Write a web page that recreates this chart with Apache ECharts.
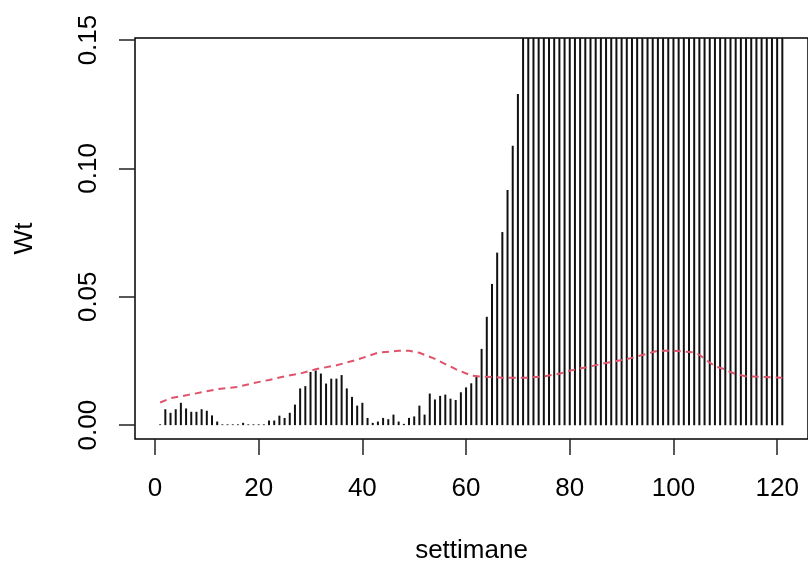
<!DOCTYPE html>
<html>
<head>
<meta charset="utf-8">
<script src="https://cdn.jsdelivr.net/npm/echarts@6/dist/echarts.min.js"></script>
<style>
  html, body { margin: 0; padding: 0; background: #fff; }
  #chartContainer { width: 808px; height: 569px; }
</style>
</head>
<body>
<div id="chartContainer"></div>
<script>
// weekly Wt values, weeks 1..121 (bars above 0.15 are clipped by the plot box)
var WT_VALUES = [
  0.0003, 0.0062, 0.0048, 0.0062, 0.0087, 0.0065, 0.0052, 0.0052, 0.0062, 0.0056,
  0.0038, 0.0014, 0.0003, 0.0003, 0.0003, 0.0003, 0.0009, 0.0003, 0.0003, 0.0003,
  0.0003, 0.0018, 0.0018, 0.0037, 0.0028, 0.0048, 0.0080, 0.0143, 0.0152, 0.0207,
  0.0213, 0.0201, 0.0162, 0.0181, 0.0181, 0.0195, 0.0143, 0.0110, 0.0076, 0.0087,
  0.0028, 0.0009, 0.0014, 0.0028, 0.0023, 0.0041, 0.0014, 0.0005, 0.0028, 0.0034,
  0.0076, 0.0041, 0.0123, 0.0100, 0.0114, 0.0119, 0.0103, 0.0098, 0.0128, 0.0147,
  0.0163, 0.0189, 0.0297, 0.0422, 0.0550, 0.0672, 0.0752, 0.0916, 0.1088, 0.1290,
  0.153, 0.171, 0.190, 0.210, 0.232, 0.255, 0.279, 0.304, 0.330, 0.357,
  0.385, 0.414, 0.444, 0.475, 0.507, 0.540, 0.574, 0.609, 0.645, 0.682,
  0.720, 0.759, 0.799, 0.840, 0.882, 0.925, 0.969, 1.014, 1.060, 1.107,
  1.155, 1.204, 1.254, 1.305, 1.357, 1.410, 1.464, 1.519, 1.575, 1.632,
  1.690, 1.749, 1.809, 1.870, 1.932, 1.995, 2.059, 2.124, 2.190, 2.257,
  2.325
];

// red dashed limit, read at these weeks
var LIMIT_WEEKS = [1, 3, 6, 9, 12, 16, 19, 22, 25, 28, 31, 35, 39, 43, 47, 49, 51, 54, 56, 58,
  61, 63, 67, 72, 75, 78, 80, 84, 87, 91, 94, 97, 100, 102, 104, 105, 106, 107, 108, 110,
  111, 112, 114, 117, 121];
var LIMIT_VALUES = [0.0088, 0.0105, 0.0116, 0.0128, 0.0140, 0.0149, 0.0164, 0.0176, 0.0190, 0.0201,
  0.0218, 0.0233, 0.0255, 0.0282, 0.0290, 0.0290, 0.0282, 0.0258, 0.0238, 0.0218,
  0.0193, 0.0189, 0.0185, 0.0185, 0.0190, 0.0200, 0.0212, 0.0229, 0.0242, 0.0257,
  0.0273, 0.0290, 0.0290, 0.0287, 0.0283, 0.0274, 0.0258, 0.0244, 0.0229, 0.0217,
  0.0207, 0.0199, 0.0190, 0.0188, 0.0185];

var X_TICKS = [0, 20, 40, 60, 80, 100, 120];
var Y_TICKS = [0, 0.05, 0.10, 0.15];

var FONT = "'Liberation Sans', Arial, sans-serif";

var barData = WT_VALUES.map((v, i) => [i + 1, v]);
var limitData = LIMIT_WEEKS.map((w, i) => [w, LIMIT_VALUES[i]]);

var CHART_OPTION = {
  animation: false,
  backgroundColor: '#fff',
  grid: {
    left: 135,
    top: 38,
    right: -2,
    bottom: 128,
    show: true,
    borderColor: '#000',
    borderWidth: 1.5,
    backgroundColor: 'transparent'
  },
  xAxis: {
    type: 'value',
    min: -3.85,
    max: 125.95,
    name: 'settimane',
    nameLocation: 'middle',
    nameGap: 99,
    nameTextStyle: { fontFamily: FONT, fontSize: 26, color: '#000', lineHeight: 26 },
    axisLine: { show: false, onZero: false },
    splitLine: { show: false },
    axisTick: {
      show: true,
      length: 16,
      customValues: X_TICKS,
      lineStyle: { color: '#222', width: 1.5 }
    },
    axisLabel: {
      customValues: X_TICKS,
      margin: 37,
      fontFamily: FONT,
      fontSize: 26,
      lineHeight: 26,
      color: '#000'
    }
  },
  yAxis: {
    type: 'value',
    min: -0.0054,
    max: 0.1508,
    name: 'Wt',
    nameLocation: 'middle',
    nameRotate: 90,
    nameGap: 97,
    nameTextStyle: { fontFamily: FONT, fontSize: 26, color: '#000', lineHeight: 26 },
    axisLine: { show: false, onZero: false },
    splitLine: { show: false },
    axisTick: {
      show: true,
      length: 16,
      customValues: Y_TICKS,
      lineStyle: { color: '#222', width: 1.5 }
    },
    axisLabel: {
      customValues: Y_TICKS,
      rotate: 90,
      align: 'center',
      verticalAlign: 'bottom',
      margin: 33,
      fontFamily: FONT,
      fontSize: 26,
      lineHeight: 26,
      color: '#000',
      formatter: (value) => value.toFixed(2)
    }
  },
  series: [
    {
      name: 'Wt',
      type: 'bar',
      data: barData,
      barWidth: 2,
      clip: true,
      itemStyle: { color: '#111' },
      silent: true
    },
    {
      name: 'limite',
      type: 'line',
      data: limitData,
      showSymbol: false,
      clip: true,
      lineStyle: { color: '#DF536B', width: 2, type: [7, 5] },
      silent: true
    }
  ]
};

var CHART = echarts.init(document.getElementById('chartContainer'), null, { renderer: 'canvas' });
CHART.setOption(CHART_OPTION);
</script>
</body>
</html>
